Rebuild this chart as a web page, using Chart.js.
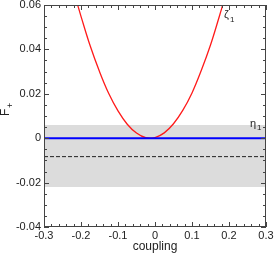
<!DOCTYPE html>
<html>
<head>
<meta charset="utf-8">
<script src="https://cdn.jsdelivr.net/npm/chart.js@4/dist/chart.umd.min.js"></script>
<style>
  html, body { margin: 0; padding: 0; background: #fff; }
  #wrap { width: 275px; height: 254px; }
</style>
</head>
<body>
<div id="wrap"><canvas id="chart" width="275" height="254"></canvas></div>
<script>
/* ======================
   DATA
====================== */
const xTicks = [-0.3, -0.2, -0.1, 0, 0.1, 0.2, 0.3]
const yTicks = [-0.04, -0.02, 0, 0.02, 0.04, 0.06]

// zeta_1 curve (red)
const zetaX = [-0.209, -0.2, -0.175, -0.15, -0.125, -0.1, -0.075, -0.05, -0.025,
               0, 0.025, 0.05, 0.075, 0.1, 0.125, 0.15, 0.175, 0.183]
const zetaY = [0.06, 0.0549, 0.0415, 0.030, 0.0201, 0.0123, 0.0063, 0.0023, 0.0002,
               0.0003, 0.0024, 0.0065, 0.0125, 0.0204, 0.0305, 0.042, 0.0555, 0.06]

// eta_1 (blue), dashed reference, grey band
const lineX = [-0.3, 0.3]
const etaY = [0, 0]
const dashY = [-0.0083, -0.0083]
const bandLow = [-0.022, -0.022]
const bandHigh = [0.006, 0.006]

/* ======================
   HELPERS
====================== */
const pts = (xs, ys) => xs.map((x, i) => ({ x, y: ys[i] }))
const fmt = (v) => v === 0 ? "0" : String(+v.toFixed(2))
const FONT = "'Liberation Sans', Arial, sans-serif"
const INK = "#222"

/* ---------- frame, inward ticks, labels ---------- */
const framePlugin = {
  id: "frame",
  afterDraw(chart) {
    const { ctx, chartArea: a, scales: { x, y } } = chart
    ctx.save()
    ctx.strokeStyle = "#444"
    ctx.lineWidth = 1
    ctx.strokeRect(a.left + 0.5, a.top + 0.5, a.right - a.left - 1, a.bottom - a.top - 1)

    ctx.beginPath()
    const tickX = (v, len) => {
      const px = Math.round(x.getPixelForValue(v)) + 0.5
      ctx.moveTo(px, a.bottom); ctx.lineTo(px, a.bottom - len)
      ctx.moveTo(px, a.top); ctx.lineTo(px, a.top + len)
    }
    const tickY = (v, len) => {
      const py = Math.round(y.getPixelForValue(v)) + 0.5
      ctx.moveTo(a.left, py); ctx.lineTo(a.left + len, py)
      ctx.moveTo(a.right, py); ctx.lineTo(a.right - len, py)
    }
    for (let i = 0; i < xTicks.length; i++) {
      tickX(xTicks[i], 5)
      if (i < xTicks.length - 1) {
        const step = (xTicks[i + 1] - xTicks[i]) / 5
        for (let k = 1; k < 5; k++) tickX(xTicks[i] + k * step, 3)
      }
    }
    for (let i = 0; i < yTicks.length; i++) {
      tickY(yTicks[i], 5)
      if (i < yTicks.length - 1) {
        const step = (yTicks[i + 1] - yTicks[i]) / 4
        for (let k = 1; k < 4; k++) tickY(yTicks[i] + k * step, 3)
      }
    }
    ctx.stroke()

    // curve labels
    ctx.fillStyle = INK
    ctx.textBaseline = "alphabetic"
    ctx.textAlign = "left"
    ctx.font = "11px " + FONT
    ctx.fillText("ζ", 224, 18)
    ctx.font = "8px " + FONT
    ctx.fillText("1", 230, 22)
    ctx.font = "11px " + FONT
    ctx.fillText("η", 250, 127)
    ctx.font = "8px " + FONT
    ctx.fillText("1", 257, 130)

    // y axis title F_+
    ctx.translate(9, 116)
    ctx.rotate(-Math.PI / 2)
    ctx.font = "12px " + FONT
    ctx.fillText("F", 0, 0)
    ctx.font = "9px " + FONT
    ctx.fillText("+", 8, 4)
    ctx.restore()
  }
}

/* ======================
   CHART
====================== */
new Chart(document.getElementById("chart"), {
  type: "line",
  data: {
    datasets: [
      { data: pts(lineX, bandLow), borderWidth: 0, pointRadius: 0, fill: false },
      { data: pts(lineX, bandHigh), borderWidth: 0, pointRadius: 0,
        fill: "-1", backgroundColor: "#dcdcdc" },
      { data: pts(lineX, dashY), borderColor: "#222", borderWidth: 1,
        borderDash: [4, 2], pointRadius: 0 },
      { data: pts(lineX, etaY), borderColor: "#0000ff", borderWidth: 2, pointRadius: 0 },
      { data: pts(zetaX, zetaY), borderColor: "#ff1a1a", borderWidth: 1.3,
        pointRadius: 0, tension: 0.4 }
    ]
  },
  options: {
    responsive: false,
    animation: false,
    events: [],
    layout: { padding: { top: 5, right: 9, left: 0, bottom: 0 } },
    plugins: {
      legend: { display: false },
      tooltip: { enabled: false },
      filler: { drawTime: "beforeDatasetsDraw" }
    },
    scales: {
      x: {
        type: "linear",
        min: xTicks[0],
        max: xTicks[xTicks.length - 1],
        afterBuildTicks: (s) => { s.ticks = xTicks.map(v => ({ value: v })) },
        afterFit: (s) => { s.height = 27; s.paddingLeft = 0; s.paddingRight = 0 },
        grid: { display: false, drawTicks: false },
        border: { display: false },
        ticks: {
          padding: 2,
          maxRotation: 0,
          autoSkip: false,
          color: INK,
          font: { family: FONT, size: 11 },
          callback: fmt
        },
        title: {
          display: true,
          text: "coupling",
          color: INK,
          padding: { top: 0, bottom: 0 },
          font: { family: FONT, size: 12 }
        }
      },
      y: {
        type: "linear",
        min: yTicks[0],
        max: yTicks[yTicks.length - 1],
        afterBuildTicks: (s) => { s.ticks = yTicks.map(v => ({ value: v })) },
        afterFit: (s) => { s.width = 44; s.paddingTop = 0; s.paddingBottom = 0 },
        grid: { display: false, drawTicks: false },
        border: { display: false },
        ticks: {
          padding: 3,
          autoSkip: false,
          color: INK,
          font: { family: FONT, size: 11 },
          callback: fmt
        }
      }
    }
  },
  plugins: [framePlugin]
})
</script>
</body>
</html>
